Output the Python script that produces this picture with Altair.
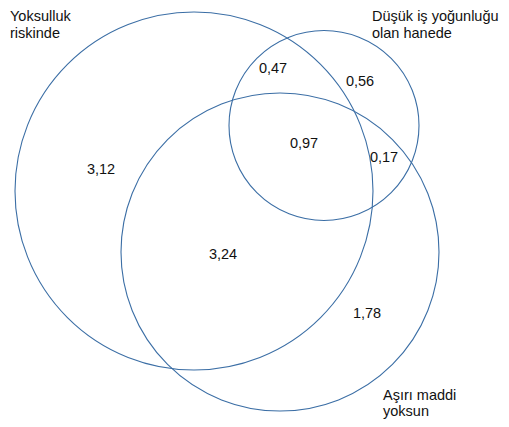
import altair as alt
import pandas as pd

# Circles (centre x, centre y, radius) in page-pixel units
circle_names = ["Yoksulluk riskinde", "Düşük iş yoğunluğu olan hanede", "Aşırı maddi yoksun"]
circle_cx = [194, 324, 280]
circle_cy = [191, 125.5, 252]
circle_r = [179, 95, 159]

# Region values (text baseline positions)
value_labels = ["3,12", "0,47", "0,56", "0,97", "0,17", "3,24", "1,78"]
value_x = [101, 273, 360, 304, 384, 223, 367]
value_y = [174, 73, 86, 148, 162, 259, 318]

# Set titles (one row per line, baseline positions)
title_lines = ["Yoksulluk", "riskinde", "Düşük iş yoğunluğu", "olan hanede", "Aşırı maddi", "yoksun"]
title_x = [10, 10, 372, 372, 383, 383]
title_y = [20.5, 37.5, 20.5, 37.5, 400, 416]

circles = pd.DataFrame({
    "name": circle_names,
    "cx": circle_cx,
    "cy": circle_cy,
    "size": [(2 * r) ** 2 for r in circle_r],
})
values = pd.DataFrame({"label": value_labels, "x": value_x, "y": value_y})
titles = pd.DataFrame({"label": title_lines, "x": title_x, "y": title_y})

xs = alt.Scale(domain=[8, 501])
ys = alt.Scale(domain=[8, 419], reverse=True)

circ = alt.Chart(circles).mark_point(
    shape="circle", filled=False, stroke="#3b6ea5", strokeWidth=1.1, opacity=1
).encode(
    x=alt.X("cx:Q", scale=xs, axis=None),
    y=alt.Y("cy:Q", scale=ys, axis=None),
    size=alt.Size("size:Q", scale=None, legend=None),
)

vals = alt.Chart(values).mark_text(
    font="Liberation Sans", fontSize=14.5, color="#111111", align="center", baseline="alphabetic"
).encode(
    x=alt.X("x:Q", scale=xs, axis=None),
    y=alt.Y("y:Q", scale=ys, axis=None),
    text="label:N",
)

tits = alt.Chart(titles).mark_text(
    font="Liberation Sans", fontSize=14.5, color="#111111", align="left", baseline="alphabetic"
).encode(
    x=alt.X("x:Q", scale=xs, axis=None),
    y=alt.Y("y:Q", scale=ys, axis=None),
    text="label:N",
)

chart = alt.layer(circ, vals, tits).properties(
    width=493, height=411, padding=0, background="white",
    autosize=alt.AutoSizeParams(type="none")
).configure_view(stroke=None)

chart.save("out.html", embed_options={"renderer": "svg", "actions": False})
